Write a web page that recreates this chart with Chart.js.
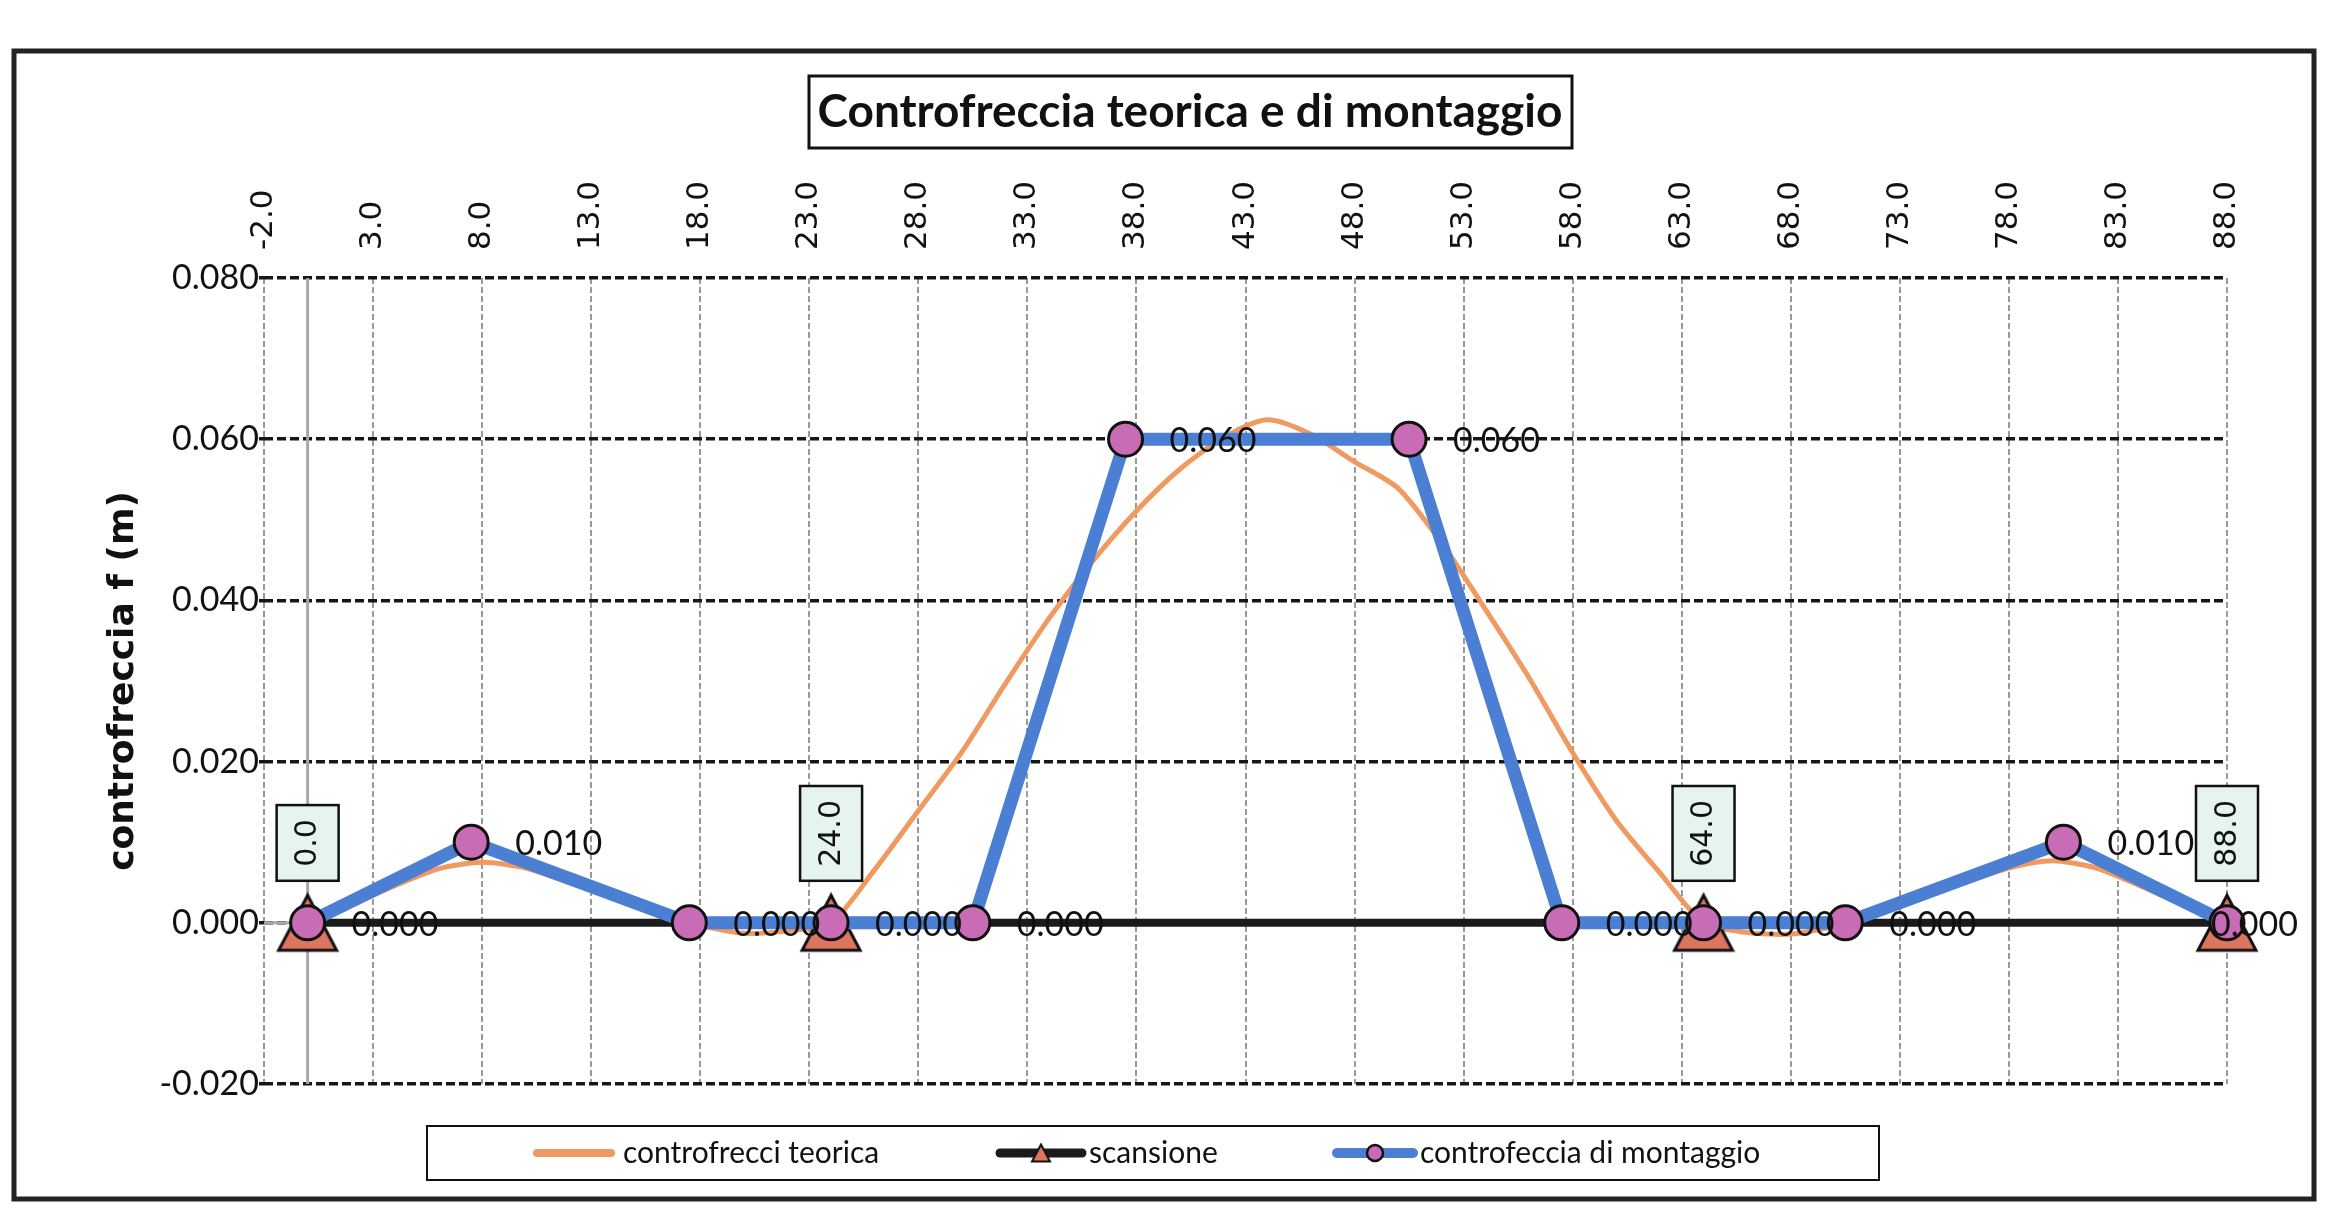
<!DOCTYPE html>
<html>
<head>
<meta charset="utf-8">
<script src="https://cdn.jsdelivr.net/npm/chart.js@4.4.0/dist/chart.umd.min.js"></script>
<style>
  html, body { margin: 0; padding: 0; background: #fff; }
</style>
</head>
<body>
<canvas id="chart" width="2349" height="1209"></canvas>
<script>
// =======================
// Dati
// =======================
const xTicks = [-2, 3, 8, 13, 18, 23, 28, 33, 38, 43, 48, 53, 58, 63, 68, 73, 78, 83, 88];
const yTicks = [-0.02, 0, 0.02, 0.04, 0.06, 0.08];

// controfreccia teorica (curva)
const teoricaX = [0, 2, 4, 6, 8, 10, 12, 14, 16, 18, 20, 22, 24, 26, 28, 30, 32, 34, 36, 38, 40, 42, 44,
                  46, 48, 50, 52, 54, 56, 58, 60, 62, 64, 66, 68, 70, 72, 74, 76, 78, 80, 82, 84, 86, 88];
const teoricaY = [0, 0.0022, 0.0046, 0.0067, 0.0075, 0.0068, 0.0050, 0.0031, 0.0012, -0.0003, -0.0013, -0.0010,
                  0, 0.0066, 0.0139, 0.0212, 0.0297, 0.0378, 0.0449, 0.0511, 0.0563, 0.0602, 0.0624,
                  0.0606, 0.0572, 0.0539, 0.0471, 0.0389, 0.0304, 0.0211, 0.0127, 0.0062, 0,
                  -0.0012, -0.0014, -0.0004, 0.0012, 0.0031, 0.0050, 0.0068, 0.0077, 0.0068, 0.0046, 0.0022, 0];

// scansione (appoggi)
const scansioneX = [0, 24, 64, 88];
const scansioneY = [0, 0, 0, 0];

// controfreccia di montaggio
const montaggioX = [0, 7.5, 17.5, 24, 30.5, 37.5, 50.5, 57.5, 64, 70.5, 80.5, 88];
const montaggioY = [0, 0.010, 0, 0, 0, 0.060, 0.060, 0, 0, 0, 0.010, 0];

const TITOLO = "Controfreccia teorica e di montaggio";
const TITOLO_Y = "controfreccia f (m)";
const NOMI = ["controfrecci teorica", "scansione", "controfeccia di montaggio"];

// =======================
// Utils
// =======================
const toPoints = (xs, ys) => xs.map((x, i) => ({ x: x, y: ys[i] }));

function makeTriangle(w, h, lw, fill) {
    // marker triangolare centrato sul punto (come in Excel)
    const c = document.createElement("canvas");
    c.width = w + lw * 2;
    c.height = h + lw * 2;
    const g = c.getContext("2d");
    g.beginPath();
    g.moveTo(c.width / 2, lw);
    g.lineTo(c.width - lw, c.height - lw);
    g.lineTo(lw, c.height - lw);
    g.closePath();
    g.fillStyle = fill;
    g.fill();
    g.lineWidth = lw;
    g.strokeStyle = "#111";
    g.stroke();
    return c;
}

const BLU = "#4a7fd4";
const ARANCIO = "#f09a62";
const NERO = "#1b1b1b";
const ROSA = "#c86cb6";
const SALMONE = "#de7561";

const triangolo = makeTriangle(58, 55, 3, SALMONE);
const triangoloPiccolo = makeTriangle(18, 17, 2, SALMONE);

const CORNICE = { left: 14, top: 51, right: 2314, bottom: 1199 };

// =======================
// Plugin
// =======================
const sfondo = {
    id: "sfondo",
    beforeDraw(chart) {
        const ctx = chart.ctx;
        ctx.save();
        ctx.fillStyle = "#fff";
        ctx.fillRect(0, 0, chart.width, chart.height);
        ctx.restore();
    }
};

const assi = {
    id: "assi",
    beforeDatasetsDraw(chart) {
        const { ctx, chartArea, scales: { x, y } } = chart;
        const x0 = x.getPixelForValue(0);
        const y0 = y.getPixelForValue(0);
        ctx.save();
        ctx.strokeStyle = "#a8a8a8";
        ctx.lineWidth = 3;
        ctx.beginPath();
        ctx.moveTo(x0, chartArea.top);
        ctx.lineTo(x0, chartArea.bottom);
        ctx.moveTo(chartArea.left, y0);
        ctx.lineTo(chartArea.right, y0);
        ctx.stroke();
        ctx.restore();
    }
};

const etichette = {
    id: "etichette",
    afterDatasetsDraw(chart) {
        const ctx = chart.ctx;
        ctx.save();

        // valori della controfreccia di montaggio
        const mM = chart.getDatasetMeta(0);
        ctx.font = "34px Lato";
        ctx.fillStyle = "#111";
        ctx.textAlign = "left";
        ctx.textBaseline = "middle";
        mM.data.forEach((pt, i) => {
            const txt = montaggioY[i].toFixed(3);
            const w = ctx.measureText(txt).width;
            // se esce dalla cornice lo sposto a sinistra, come fa Excel
            const lx = Math.min(pt.x + 44, CORNICE.right - 16 - w);
            ctx.fillText(txt, lx, pt.y + 2);
        });

        // progressive degli appoggi (riquadri verdini)
        const mS = chart.getDatasetMeta(1);
        ctx.font = "30px 'DejaVu Sans'";
        mS.data.forEach((pt, i) => {
            const txt = scansioneX[i].toFixed(1);
            const tw = ctx.measureText(txt).width;
            const bw = 62, bh = tw + 28;
            const bx = pt.x - bw / 2, by = pt.y - 42 - bh;
            ctx.fillStyle = "#e6f4ee";
            ctx.fillRect(bx, by, bw, bh);
            ctx.strokeStyle = "#111";
            ctx.lineWidth = 2.5;
            ctx.strokeRect(bx, by, bw, bh);
            ctx.save();
            ctx.translate(pt.x + 1, by + bh / 2);
            ctx.rotate(-Math.PI / 2);
            ctx.fillStyle = "#111";
            ctx.textAlign = "center";
            ctx.textBaseline = "middle";
            ctx.fillText(txt, 0, 0);
            ctx.restore();
        });
        ctx.restore();
    }
};

const cornice = {
    id: "cornice",
    afterDraw(chart) {
        const ctx = chart.ctx;
        ctx.save();

        // bordo esterno
        ctx.strokeStyle = "#222";
        ctx.lineWidth = 5;
        ctx.strokeRect(CORNICE.left, CORNICE.top, CORNICE.right - CORNICE.left, CORNICE.bottom - CORNICE.top);

        // titolo in riquadro
        ctx.lineWidth = 3;
        ctx.strokeStyle = "#111";
        ctx.strokeRect(809, 76, 763, 72);
        ctx.font = "bold 46px Lato";
        ctx.fillStyle = "#111";
        ctx.textAlign = "center";
        ctx.textBaseline = "middle";
        ctx.fillText(TITOLO, 1190, 112);

        // legenda
        ctx.lineWidth = 2;
        ctx.strokeRect(427, 1126, 1452, 54);
        const ly = 1153;
        ctx.lineCap = "round";

        ctx.strokeStyle = ARANCIO;
        ctx.lineWidth = 8;
        ctx.beginPath(); ctx.moveTo(537, ly); ctx.lineTo(611, ly); ctx.stroke();

        ctx.strokeStyle = NERO;
        ctx.lineWidth = 9;
        ctx.beginPath(); ctx.moveTo(1000, ly); ctx.lineTo(1082, ly); ctx.stroke();
        ctx.drawImage(triangoloPiccolo, 1041 - triangoloPiccolo.width / 2, ly - triangoloPiccolo.height / 2);

        ctx.strokeStyle = BLU;
        ctx.lineWidth = 10;
        ctx.beginPath(); ctx.moveTo(1337, ly); ctx.lineTo(1413, ly); ctx.stroke();
        ctx.beginPath();
        ctx.arc(1375, ly, 8, 0, Math.PI * 2);
        ctx.fillStyle = ROSA; ctx.fill();
        ctx.lineWidth = 2.5; ctx.strokeStyle = "#111"; ctx.stroke();

        ctx.font = "30px Lato";
        ctx.fillStyle = "#111";
        ctx.textAlign = "left";
        ctx.textBaseline = "middle";
        ctx.fillText(NOMI[0], 623, ly);
        ctx.fillText(NOMI[1], 1089, ly);
        ctx.fillText(NOMI[2], 1420, ly);

        ctx.restore();
    }
};

// =======================
// Grafico
// =======================
const ctx = document.getElementById("chart");
const chart = new Chart(ctx, {
    type: "line",
    data: {
        datasets: [
            {
                label: NOMI[2], data: toPoints(montaggioX, montaggioY),
                borderColor: BLU, borderWidth: 13, borderJoinStyle: "round", borderCapStyle: "round",
                pointRadius: 17, pointBackgroundColor: ROSA, pointBorderColor: "#111", pointBorderWidth: 3,
                tension: 0, clip: false
            },
            {
                label: NOMI[1], data: toPoints(scansioneX, scansioneY),
                borderColor: NERO, borderWidth: 8,
                pointStyle: triangolo, pointRadius: 30,
                tension: 0, clip: false
            },
            {
                label: NOMI[0], data: toPoints(teoricaX, teoricaY),
                borderColor: ARANCIO, borderWidth: 5, borderJoinStyle: "round",
                pointRadius: 0, tension: 0.25, clip: false
            }
        ]
    },
    options: {
        responsive: false,
        animation: false,
        devicePixelRatio: 1,
        layout: { padding: { left: 0, top: 0, right: 122, bottom: 125 } },
        plugins: { legend: { display: false }, tooltip: { enabled: false }, title: { display: false } },
        scales: {
            x: {
                type: "linear", position: "top", min: -2, max: 88,
                afterBuildTicks: s => { s.ticks = xTicks.map(v => ({ value: v })); },
                afterFit: s => { s.height = 278; },
                ticks: {
                    autoSkip: false, minRotation: 90, maxRotation: 90, padding: 28,
                    color: "#111", font: { family: "DejaVu Sans", size: 31, lineHeight: 0 },
                    callback: v => Number(v).toFixed(1)
                },
                grid: { color: "#999999", lineWidth: 2, drawTicks: false },
                border: { display: false, dash: [6, 3] }
            },
            y: {
                type: "linear", min: -0.02, max: 0.08,
                afterBuildTicks: s => { s.ticks = yTicks.map(v => ({ value: v })); },
                afterFit: s => { s.width = 264; },
                ticks: {
                    padding: 0, color: "#111", font: { family: "Lato", size: 34 },
                    callback: v => Number(v).toFixed(3)
                },
                grid: { color: "#161616", lineWidth: 3.5, tickLength: 5 },
                border: { display: false, dash: [9, 4] },
                title: {
                    display: true, text: TITOLO_Y, color: "#111",
                    font: { family: "DejaVu Sans", size: 36, weight: "bold" },
                    padding: { top: 102, bottom: 0 }
                }
            }
        }
    },
    plugins: [sfondo, assi, etichette, cornice]
});
</script>
</body>
</html>
